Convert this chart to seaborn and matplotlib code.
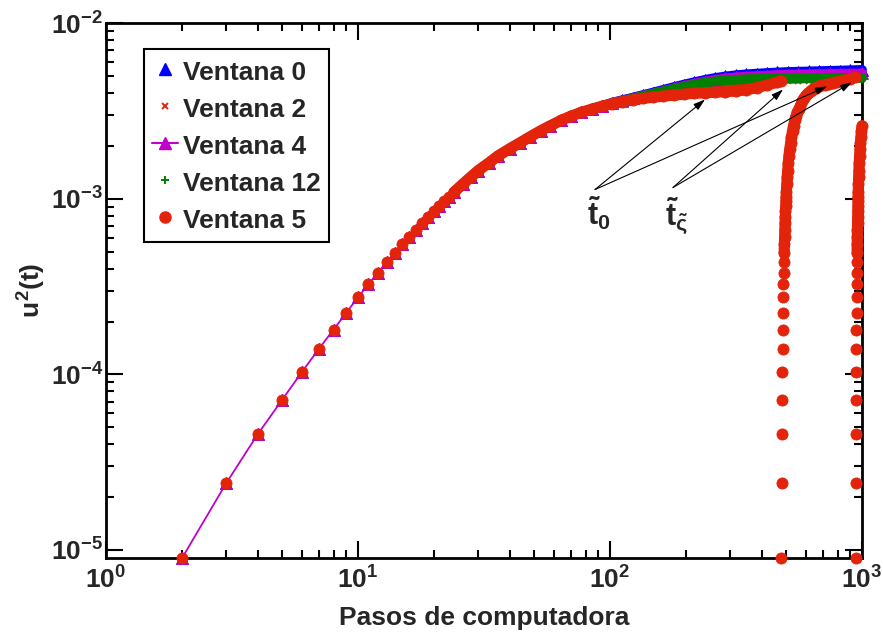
import matplotlib
matplotlib.use("Agg")
import matplotlib.pyplot as plt
from matplotlib import ticker
from matplotlib.lines import Line2D
import numpy as np
import pandas as pd
import seaborn as sns

# ---------------------------------------------------------------------------
# Datos: u^2(t) frente a pasos de computadora
# ---------------------------------------------------------------------------
# Tramo en el que todas las ventanas coinciden
pasos_comun = [2, 3, 4, 5, 6, 7, 8, 9, 10, 11, 12, 13, 14, 15, 16, 17, 18, 19,
               20, 21, 22, 23, 24, 26, 28, 30, 33, 36, 40, 44, 48, 53, 58, 64,
               70, 77, 85, 93]
u2_comun = [8.95e-6, 2.40e-5, 4.56e-5, 7.16e-5, 1.035e-4, 1.40e-4, 1.80e-4,
            2.25e-4, 2.75e-4, 3.26e-4, 3.80e-4, 4.35e-4, 4.92e-4, 5.50e-4,
            6.08e-4, 6.68e-4, 7.28e-4, 7.88e-4, 8.50e-4, 9.10e-4, 9.72e-4,
            1.03e-3, 1.09e-3, 1.21e-3, 1.33e-3, 1.45e-3, 1.60e-3, 1.76e-3,
            1.93e-3, 2.09e-3, 2.25e-3, 2.44e-3, 2.61e-3, 2.80e-3, 2.96e-3,
            3.11e-3, 3.25e-3, 3.37e-3]

# Colas de cada ventana a partir de ~100 pasos
pasos_cola = [102, 112, 123, 135, 148, 163, 179, 197, 216, 238, 261, 287, 316,
              347, 382, 420, 462, 508, 559, 615, 676, 744, 818, 900, 1000]
u2_v0_cola = [3.53e-3, 3.65e-3, 3.77e-3, 3.90e-3, 4.03e-3, 4.18e-3, 4.33e-3,
              4.48e-3, 4.62e-3, 4.76e-3, 4.88e-3, 4.98e-3, 5.06e-3, 5.12e-3,
              5.17e-3, 5.21e-3, 5.25e-3, 5.28e-3, 5.30e-3, 5.32e-3, 5.34e-3,
              5.36e-3, 5.38e-3, 5.40e-3, 5.43e-3]
u2_v2_cola = [3.49e-3, 3.58e-3, 3.67e-3, 3.76e-3, 3.85e-3, 3.95e-3, 4.05e-3,
              4.15e-3, 4.25e-3, 4.34e-3, 4.42e-3, 4.48e-3, 4.53e-3, 4.57e-3,
              4.60e-3, 4.63e-3, 4.66e-3, 4.68e-3, 4.70e-3, 4.72e-3, 4.74e-3,
              4.76e-3, 4.78e-3, 4.80e-3, 4.82e-3]
u2_v4_cola = [3.52e-3, 3.63e-3, 3.74e-3, 3.86e-3, 3.98e-3, 4.12e-3, 4.26e-3,
              4.40e-3, 4.53e-3, 4.65e-3, 4.76e-3, 4.85e-3, 4.92e-3, 4.97e-3,
              5.01e-3, 5.04e-3, 5.07e-3, 5.09e-3, 5.11e-3, 5.13e-3, 5.14e-3,
              5.15e-3, 5.16e-3, 5.17e-3, 5.19e-3]
u2_v12_cola = [3.51e-3, 3.62e-3, 3.73e-3, 3.85e-3, 3.97e-3, 4.10e-3, 4.23e-3,
               4.36e-3, 4.48e-3, 4.59e-3, 4.67e-3, 4.73e-3, 4.77e-3, 4.80e-3,
               4.82e-3, 4.83e-3, 4.84e-3, 4.85e-3, 4.85e-3, 4.86e-3, 4.86e-3,
               4.87e-3, 4.87e-3, 4.88e-3, 4.88e-3]

# Ventana 5: primer tramo hasta t = 476 y dos reinicios
pasos_v5_cola = [102, 112, 123, 135, 148, 163, 179, 197, 216, 238, 261, 287,
                 316, 347, 382, 420, 462, 476]
u2_v5_cola = [3.48e-3, 3.58e-3, 3.66e-3, 3.73e-3, 3.79e-3, 3.85e-3, 3.90e-3,
              3.95e-3, 3.99e-3, 4.02e-3, 4.05e-3, 4.08e-3, 4.11e-3, 4.18e-3,
              4.30e-3, 4.45e-3, 4.62e-3, 4.68e-3]
reinicios_v5 = [477, 942]
k_tramo2_cola = [102, 112, 123, 135, 148, 163, 179, 197, 216, 238, 261, 287,
                 316, 347, 382, 420, 463]
u2_tramo2_cola = [3.62e-3, 3.75e-3, 3.88e-3, 4.00e-3, 4.12e-3, 4.22e-3,
                  4.30e-3, 4.37e-3, 4.43e-3, 4.48e-3, 4.53e-3, 4.58e-3,
                  4.63e-3, 4.68e-3, 4.74e-3, 4.82e-3, 4.92e-3]
k_tramo3_max = 58

nombres = ["Ventana 0", "Ventana 2", "Ventana 4", "Ventana 12", "Ventana 5"]

# ---------------------------------------------------------------------------
# Estilo
# ---------------------------------------------------------------------------
sns.set_style("ticks")
plt.rcParams["font.family"] = ["Liberation Sans", "DejaVu Sans"]
plt.rcParams["font.weight"] = "bold"
plt.rcParams["axes.labelweight"] = "bold"
plt.rcParams["mathtext.fontset"] = "custom"
plt.rcParams["mathtext.rm"] = "Liberation Sans:bold"
plt.rcParams["mathtext.it"] = "Liberation Sans:bold"
plt.rcParams["mathtext.bf"] = "Liberation Sans:bold"
plt.rcParams["mathtext.sf"] = "Liberation Sans:bold"

AZUL = "#0000ff"
ROJO = "#e3240a"
MAGENTA = "#c000cc"
VERDE = "#008000"
TAM = 19

fig = plt.figure(figsize=(8.83, 6.41), dpi=100)
ax = fig.add_axes([106 / 883, 83.3 / 641, 756 / 883, 534.4 / 641])
ax.set_xscale("log")
ax.set_yscale("log")


def dibuja_serie(t, u2, color, marcador, tam, z, banda=0.0, desde=24,
                 mew=0.6, linea_fina=0.0):
    datos = pd.DataFrame({"paso": np.asarray(t, float), "u2": np.asarray(u2, float)})
    comunes = dict(ax=ax, x="paso", y="u2", estimator=None, sort=False,
                   errorbar=None, legend=False, clip_on=False, zorder=z)
    # donde los marcadores se solapan forman una banda continua
    densos = datos[datos["paso"] >= desde]
    if banda > 0 and len(densos) > 1:
        sns.lineplot(data=densos, color=color, linewidth=banda,
                     solid_capstyle="round", solid_joinstyle="round", **comunes)
    if linea_fina > 0:
        sns.lineplot(data=datos, color=color, linewidth=linea_fina, **comunes)
    sns.lineplot(data=datos, color=color, linestyle="none", marker=marcador,
                 markersize=tam, markeredgecolor=color, markeredgewidth=mew,
                 **comunes)


pasos_todo = pasos_comun + pasos_cola
dibuja_serie(pasos_todo, u2_comun + u2_v0_cola, AZUL, "^", 8, 3, banda=7)
dibuja_serie(pasos_todo, u2_comun + u2_v2_cola, ROJO, "x", 4.5, 3.1, banda=3.5, mew=1.2)
dibuja_serie(pasos_todo, u2_comun + u2_v4_cola, MAGENTA, "^", 8, 3.2, banda=7,
             linea_fina=1.3)
dibuja_serie(pasos_todo, u2_comun + u2_v12_cola, VERDE, "+", 5, 3.3, banda=7, mew=1.2)

# Ventana 5 con sus reinicios
dibuja_serie(pasos_comun + pasos_v5_cola, u2_comun + u2_v5_cola, ROJO, "o", 8, 3.4,
             banda=8)
k2 = np.array(pasos_comun + k_tramo2_cola)
dibuja_serie(reinicios_v5[0] + k2, u2_comun + u2_tramo2_cola, ROJO, "o", 8, 3.4,
             banda=8, desde=reinicios_v5[0] + 14)
k3 = np.array([k for k in pasos_comun if k <= k_tramo3_max])
dibuja_serie(reinicios_v5[1] + k3, u2_comun[:len(k3)], ROJO, "o", 8, 3.4,
             banda=8, desde=reinicios_v5[1] + 14)

# ---------------------------------------------------------------------------
# Ejes
# ---------------------------------------------------------------------------
ax.set_xlim(1, 1000)
ax.set_ylim(9.03e-6, 1e-2)


def potencia(valor, pos):
    return rf"$\mathbf{{10^{{{int(np.round(np.log10(valor)))}}}}}$"


for eje in (ax.xaxis, ax.yaxis):
    eje.set_major_locator(ticker.LogLocator(base=10, numticks=12))
    eje.set_minor_locator(ticker.LogLocator(base=10, subs=np.arange(2, 10), numticks=12))
    eje.set_major_formatter(ticker.FuncFormatter(potencia))
    eje.set_minor_formatter(ticker.NullFormatter())

ax.tick_params(which="both", direction="in", top=True, right=True, width=1.5,
               color="black", labelsize=TAM)
ax.tick_params(which="major", length=12)
ax.tick_params(which="minor", length=5.5)
ax.tick_params(axis="x", which="major", pad=6)
ax.tick_params(axis="y", which="major", pad=2)
for lado in ax.spines.values():
    lado.set_linewidth(2)
    lado.set_color("black")
    lado.set_zorder(2.5)

ax.set_xlabel("Pasos de computadora", fontsize=TAM, fontweight="bold", labelpad=9)
ax.set_ylabel(r"$u^{2}(t)$", fontsize=TAM, labelpad=2)

# ---------------------------------------------------------------------------
# Leyenda
# ---------------------------------------------------------------------------
manejadores = [
    Line2D([], [], color=AZUL, marker="^", ls="none", ms=8, mec=AZUL),
    Line2D([], [], color=ROJO, marker="x", ls="none", ms=5, mec=ROJO, mew=1.4),
    Line2D([], [], color=MAGENTA, marker="^", ls="-", lw=1.5, ms=8, mec=MAGENTA),
    Line2D([], [], color=VERDE, marker="+", ls="none", ms=6, mec=VERDE, mew=1.4),
    Line2D([], [], color=ROJO, marker="o", ls="none", ms=8, mec=ROJO),
]
leyenda = ax.legend(manejadores, nombres, loc="upper left",
                    bbox_to_anchor=(0.050, 0.952), borderaxespad=0,
                    frameon=True, fancybox=False, edgecolor="black",
                    framealpha=1, prop={"size": TAM, "weight": "bold"},
                    handlelength=1.0, handleheight=1.32, handletextpad=0.2,
                    labelspacing=0.3, borderpad=0.3)
leyenda.get_frame().set_linewidth(1.5)
leyenda.set_zorder(10)

# ---------------------------------------------------------------------------
# Anotaciones
# ---------------------------------------------------------------------------
flecha = dict(arrowstyle="-|>,head_length=0.7,head_width=0.22", color="black",
              lw=0.8, shrinkA=0, shrinkB=0, mutation_scale=10)
for destino in [(238.3, 3.68e-3), (726, 4.37e-3)]:
    ax.annotate("", xy=destino, xytext=(87.2, 1.13e-3), arrowprops=flecha,
                zorder=8)
for destino in [(486, 4.20e-3), (912, 4.61e-3)]:
    ax.annotate("", xy=destino, xytext=(177.8, 1.16e-3), arrowprops=flecha,
                zorder=8)
ax.text(90.5, 8.3e-4, r"$\tilde{t}_{0}$", ha="center", va="center",
        fontsize=22, zorder=8)
ax.text(184.5, 7.9e-4, r"$\tilde{t}_{\tilde{\varsigma}}$", ha="center",
        va="center", fontsize=22, zorder=8)

fig.savefig("out.png", dpi=100, facecolor="white")
